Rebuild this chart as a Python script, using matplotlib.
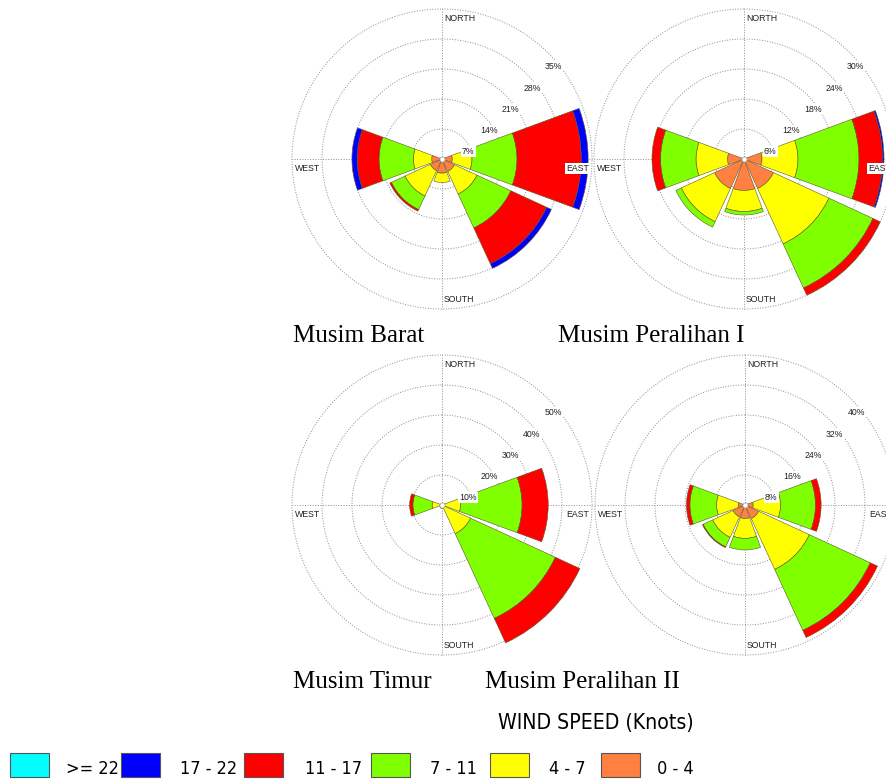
import numpy as np
import matplotlib
matplotlib.use("Agg")
import matplotlib.pyplot as plt
from matplotlib.patches import Rectangle

# wind direction sectors (compass order) and speed classes in knots
DIRECTIONS = ["N", "NE", "E", "SE", "S", "SW", "W", "NW"]
SPEED_LABELS = ["0 - 4", "4 - 7", "7 - 11", "11 - 17", "17 - 22", ">= 22"]
SPEED_COLORS = ["#FF8040", "#FFFF00", "#80FF00", "#FF0000", "#0000FF", "#00FFFF"]

# frequency (%) per direction, one row per speed class
barat = [
    [0, 0, 2.4, 3.2, 3.3, 3.0, 2.4, 0],
    [0, 0, 4.6, 5.8, 2.2, 6.5, 4.3, 0],
    [0, 0, 10.5, 8.7, 0, 3.5, 8.0, 0],
    [0, 0, 15.0, 9.2, 0, 0.4, 5.1, 0],
    [0, 0, 1.6, 1.2, 0, 0, 1.2, 0],
    [0, 0, 0, 0, 0, 0, 0, 0],
]
peralihan_1 = [
    [0, 0, 3.6, 6.5, 6.3, 6.5, 3.3, 0],
    [0, 0, 7.2, 12.2, 4.2, 7.3, 6.3, 0],
    [0, 0, 12.2, 9.7, 0.7, 1.2, 7.1, 0],
    [0, 0, 4.7, 1.6, 0, 0, 1.7, 0],
    [0, 0, 0.3, 0, 0, 0, 0, 0],
    [0, 0, 0, 0, 0, 0, 0, 0],
]
timur = [
    [0, 0, 0.5, 0.5, 0.6, 0.5, 0.5, 0],
    [0, 0, 5.7, 10.0, 0.6, 0.4, 2.8, 0],
    [0, 0, 20.5, 31.1, 0, 0, 6.4, 0],
    [0, 0, 8.7, 9.0, 0, 0, 1.1, 0],
    [0, 0, 0, 0, 0, 0, 0, 0],
    [0, 0, 0, 0, 0, 0, 0, 0],
]
peralihan_2 = [
    [0, 0, 2.2, 4.0, 3.6, 3.5, 1.8, 0],
    [0, 0, 7.3, 14.9, 5.3, 6.0, 5.8, 0],
    [0, 0, 9.3, 17.9, 3.1, 2.8, 7.1, 0],
    [0, 0, 1.5, 2.1, 0, 0.2, 0.9, 0],
    [0, 0, 0, 0, 0, 0, 0, 0],
    [0, 0, 0, 0, 0, 0, 0, 0],
]

SEASONS = ["Musim Barat", "Musim Peralihan I", "Musim Timur", "Musim Peralihan II"]
SEASON_DATA = [barat, peralihan_1, timur, peralihan_2]
RING_STEPS = [7, 6, 10, 8]

W, H = 887, 779
fig = plt.figure(figsize=(W / 100, H / 100), dpi=100)

small = dict(family="Liberation Sans", fontsize=6.3, color="#222222")
box = dict(boxstyle="square,pad=0.15", fc="white", ec="none")


def px_rect(cx, cy, r):
    return [(cx - r) / W, 1 - (cy + r) / H, 2 * r / W, 2 * r / H]


def draw_rose(ax, freq, step):
    rmax = step * 5
    ax.set_theta_zero_location("N")
    ax.set_theta_direction(-1)
    ax.set_ylim(0, rmax)
    ax.set_axis_off()

    # dotted rings and compass cross
    t = np.linspace(0, 2 * np.pi, 361)
    for k in range(1, 6):
        ax.plot(t, np.full_like(t, step * k), ls=":", lw=0.7, color="#8c8c8c",
                zorder=1, clip_on=False)
    for a in np.arange(4) * np.pi / 2:
        ax.plot([a, a], [0, rmax], ls=":", lw=0.7, color="#8c8c8c", zorder=1,
                clip_on=False)

    theta = np.deg2rad(np.arange(len(DIRECTIONS)) * 45.0)
    width = np.deg2rad(40.5)
    bottom = np.zeros(len(DIRECTIONS))
    for vals, color in zip(freq, SPEED_COLORS):
        vals = np.asarray(vals, dtype=float)
        m = vals > 0
        ax.bar(theta[m], vals[m], width=width, bottom=bottom[m], color=color,
               edgecolor="#5a5a2a", linewidth=0.4, zorder=2, clip_on=False)
        bottom += vals

    ax.scatter([0], [0], s=14, color="white", edgecolors="#999999",
               linewidths=0.5, zorder=4, clip_on=False)

    # compass labels
    ax.annotate("NORTH", (0, rmax), xytext=(1.5, -6.8), textcoords="offset points",
                ha="left", va="center", bbox=box, zorder=5, **small)
    ax.annotate("SOUTH", (np.pi, rmax), xytext=(1.5, 6.8), textcoords="offset points",
                ha="left", va="center", bbox=box, zorder=5, **small)
    ax.annotate("WEST", (1.5 * np.pi, rmax), xytext=(2, -6.8),
                textcoords="offset points", ha="left", va="center", bbox=box,
                zorder=5, **small)
    ax.annotate("EAST", (0.5 * np.pi, rmax), xytext=(-2, -6.8),
                textcoords="offset points", ha="right", va="center", bbox=box,
                zorder=5, **small)

    # ring percentage labels along the NE diagonal
    for k in range(1, 6):
        ax.annotate(f"{step * k}%", (np.pi / 4, step * k), xytext=(3.6, -10),
                    textcoords="offset points", ha="center", va="center",
                    bbox=box, zorder=5, **small)


centers = [(442, 159), (744, 159), (442, 505), (745, 505)]
for (cx, cy), freq, step in zip(centers, SEASON_DATA, RING_STEPS):
    ax = fig.add_axes(px_rect(cx, cy, 150), projection="polar")
    draw_rose(ax, freq, step)

# season captions
title_pos = [(293, 342), (558, 342), (293, 688), (485, 688)]
for (x, y), name in zip(title_pos, SEASONS):
    fig.text(x / W, 1 - y / H, name, family="Liberation Serif", fontsize=18,
             ha="left", va="baseline")

# speed legend, strongest class first
narrow = dict(family="DejaVu Sans", fontstretch="condensed")
fig.text(498 / W, 1 - 729 / H, "WIND SPEED (Knots)", fontsize=15.2,
         ha="left", va="baseline", **narrow)
box_x = [10, 121, 244, 371, 490, 601]
label_x = [66, 180, 305, 430, 549, 657]
for bx, lx, lab, col in zip(box_x, label_x, SPEED_LABELS[::-1], SPEED_COLORS[::-1]):
    fig.patches.append(Rectangle((bx / W, 1 - 777 / H), 39 / W, 24 / H,
                                 transform=fig.transFigure, facecolor=col,
                                 edgecolor="#555555", linewidth=0.8))
    fig.text(lx / W, 1 - 774 / H, lab, fontsize=13, ha="left",
             va="baseline", **narrow)

fig.savefig("out.png", dpi=100, facecolor="white")
